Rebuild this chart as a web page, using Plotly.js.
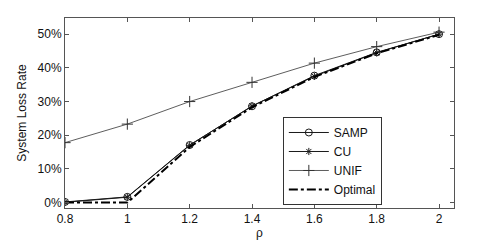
<!DOCTYPE html>
<html>
<head>
<meta charset="utf-8">
<script src="https://cdn.plot.ly/plotly-3.0.1.min.js"></script>
<style>
  html, body { margin: 0; padding: 0; background: #fff; }
  #chart { width: 501px; height: 241px; }
</style>
</head>
<body>
<div id="chart"></div>
<script>
const rho = [0.8, 1.0, 1.2, 1.4, 1.6, 1.8, 2.0];
const samp = [0.2, 1.7, 17.1, 28.6, 37.7, 44.6, 50.0];
const cu = [0.1, 1.6, 17.0, 28.7, 37.5, 44.5, 50.0];
const unif = [17.8, 23.3, 30.0, 35.7, 41.4, 46.3, 50.6];
const optimal = [0.0, 0.0, 16.5, 28.3, 37.3, 44.3, 49.8];
const yTicks = [0, 10, 20, 30, 40, 50];
const xTicks = [0.8, 1, 1.2, 1.4, 1.6, 1.8, 2];

const lineCol = '#1a1a1a';
const fontFam = 'Liberation Sans, Arial, sans-serif';
const traces = [
  { x: rho, y: samp, name: 'SAMP', type: 'scatter', mode: 'lines+markers',
    line: { color: lineCol, width: 1 },
    marker: { symbol: 'circle-open', size: 7, color: lineCol, line: { width: 1, color: lineCol } } },
  { x: rho, y: cu, name: 'CU', type: 'scatter', mode: 'lines+markers',
    line: { color: lineCol, width: 1 },
    marker: { symbol: 'asterisk-open', size: 6, color: lineCol, line: { width: 1, color: lineCol } } },
  { x: rho, y: unif, name: 'UNIF', type: 'scatter', mode: 'lines+markers',
    line: { color: '#333', width: 0.8 },
    marker: { symbol: 'cross-thin-open', size: 8, color: '#333', line: { width: 1, color: '#333' } } },
  { x: rho, y: optimal, name: 'Optimal', type: 'scatter', mode: 'lines',
    line: { color: '#000', width: 2, dash: 'dashdot' } }
];

const axisCommon = {
  showgrid: false, zeroline: false, showline: true, linecolor: '#555', linewidth: 1,
  mirror: 'allticks', ticks: 'inside', ticklen: 4, tickcolor: '#555',
  tickfont: { family: fontFam, size: 12, color: '#111' }
};

const layout = {
  width: 501, height: 241,
  margin: { l: 65, r: 47, t: 18, b: 33 },
  paper_bgcolor: '#fff', plot_bgcolor: '#fff',
  showlegend: true,
  xaxis: Object.assign({}, axisCommon, {
    range: [0.8, 2.048], tickvals: xTicks, ticktext: xTicks.map(String),
    title: { text: 'ρ', standoff: 2, font: { family: fontFam, size: 12, color: '#111' } }
  }),
  yaxis: Object.assign({}, axisCommon, {
    range: [-1.6, 54.8], tickvals: yTicks, ticktext: yTicks.map(v => v + '%'),
    title: { text: 'System Loss Rate', standoff: 8, font: { family: fontFam, size: 12, color: '#111' } }
  }),
  legend: {
    x: 0.56, y: 0.479, xanchor: 'left', yanchor: 'top',
    bgcolor: '#fff', bordercolor: '#333', borderwidth: 1,
    font: { family: fontFam, size: 12, color: '#111' },
    tracegroupgap: 0, itemwidth: 40, entrywidth: 128, entrywidthmode: 'pixels'
  }
};

Plotly.newPlot('chart', traces, layout, { displayModeBar: false, staticPlot: true });
</script>
</body>
</html>
